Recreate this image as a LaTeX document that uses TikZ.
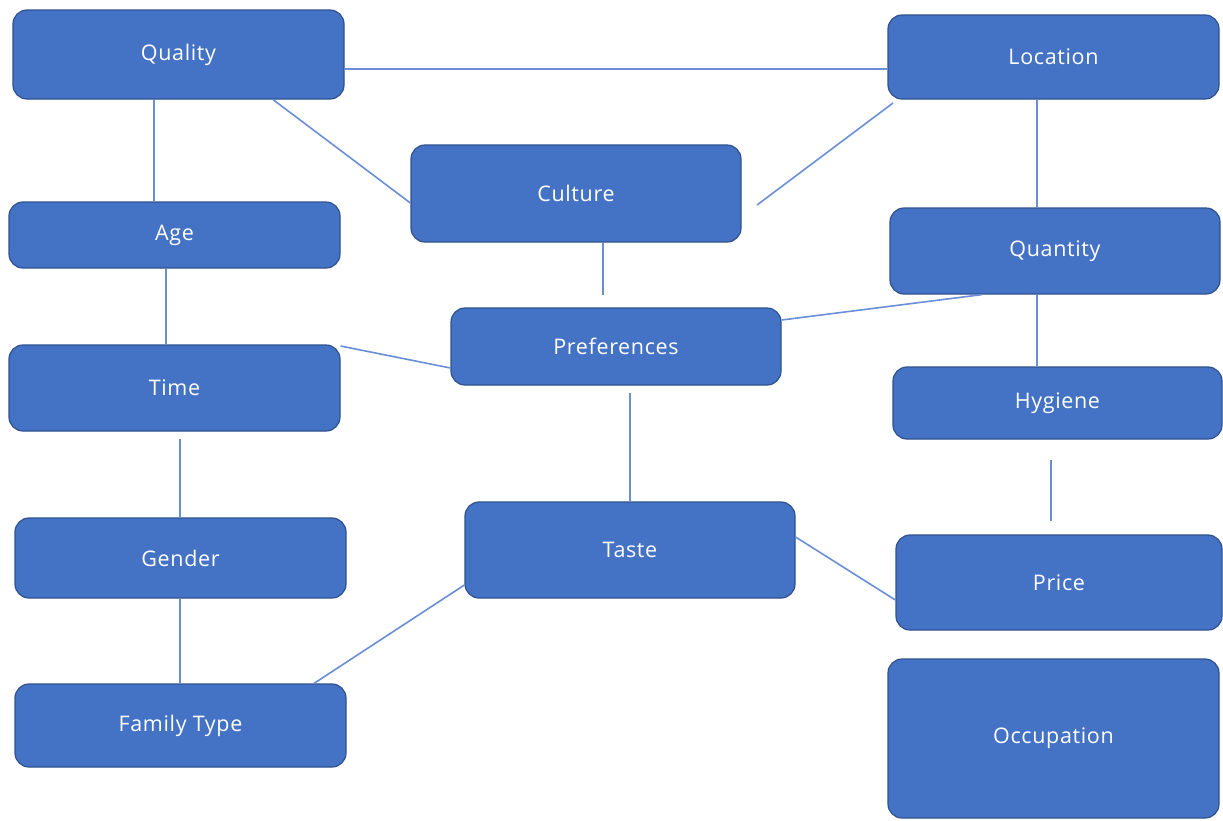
\documentclass[tikz,border=0pt]{standalone}
\usepackage{fontspec}
\setmainfont[LetterSpace=3]{Open Sans}
\definecolor{boxfill}{HTML}{4472C4}
\definecolor{boxedge}{HTML}{2F528F}
\definecolor{linkc}{HTML}{6B8FD6}
\begin{document}
\begin{tikzpicture}[x=1pt,y=-1pt,
  box/.style={draw=boxedge, line width=1.2pt, fill=boxfill, rounded corners=14pt,
    text=white, font=\fontsize{21.5}{24}\selectfont, inner sep=0pt},
  link/.style={draw=linkc, line width=1.6pt}]
\useasboundingbox (0,0) rectangle (1223,820);
\fill[white] (0,0) rectangle (1223,820);
% nodes
\node[box, minimum width=331, minimum height=89] (q) at (178.5,54.5) {Quality};
\node[box, minimum width=331, minimum height=84] (l) at (1053.5,57) {Location};
\node[box, minimum width=330, minimum height=97] (c) at (576,193.5) {Culture};
\node[box, minimum width=331, minimum height=66] (a) at (174.5,235) {Age};
\node[box, minimum width=330, minimum height=86] (qt) at (1055,251) {Quantity};
\node[box, minimum width=330, minimum height=77] (p) at (616,346.5) {Preferences};
\node[box, minimum width=331, minimum height=86] (t) at (174.5,388) {Time};
\node[box, minimum width=329, minimum height=72] (h) at (1057.5,403) {Hygiene};
\node[box, minimum width=331, minimum height=80] (g) at (180.5,558) {Gender};
\node[box, minimum width=330, minimum height=96] (ta) at (630,550) {Taste};
\node[box, minimum width=326, minimum height=95] (pr) at (1059,582.5) {Price};
\node[box, minimum width=331, minimum height=83] (f) at (180.5,725.5) {Family Type};
\node[box, minimum width=331, minimum height=159] (o) at (1053.5,738.5) {Occupation};
% free ends
\coordinate (lfree) at (893,103);
\coordinate (cfree) at (757,205);
\coordinate (cdown) at (603,295);
\coordinate (pdown) at (630,393);
\coordinate (hup) at (1051,460);
\coordinate (hdown) at (1051,521);
\coordinate (tdown) at (180,439);
% connectors
\draw[link] (q.east |- 0,69) -- (l.west |- 0,69);
\draw[link] (q.south -| 273,0) -- (c.west |- 0,203);
\draw[link] (lfree) -- (cfree);
\draw[link] (q.south -| 154,0) -- (a.north -| 154,0);
\draw[link] (l.south -| 1037,0) -- (qt.north -| 1037,0);
\draw[link] (c.south -| 603,0) -- (cdown);
\draw[link] (a.south -| 166,0) -- (t.north -| 166,0);
\draw[link] (p.east |- 0,320) -- (qt.south -| 982,0);
\draw[link] (t.east |- 0,346) -- (p.west |- 0,368);
\draw[link] (qt.south -| 1037,0) -- (h.north -| 1037,0);
\draw[link] (pdown) -- (ta.north -| 630,0);
\draw[link] (hup) -- (hdown);
\draw[link] (tdown) -- (g.north -| 180,0);
\draw[link] (g.south -| 180,0) -- (f.north -| 180,0);
\draw[link] (ta.east |- 0,537) -- (pr.west |- 0,600);
\draw[link] (f.north -| 314,0) -- (ta.west |- 0,585);
\end{tikzpicture}
\end{document}
